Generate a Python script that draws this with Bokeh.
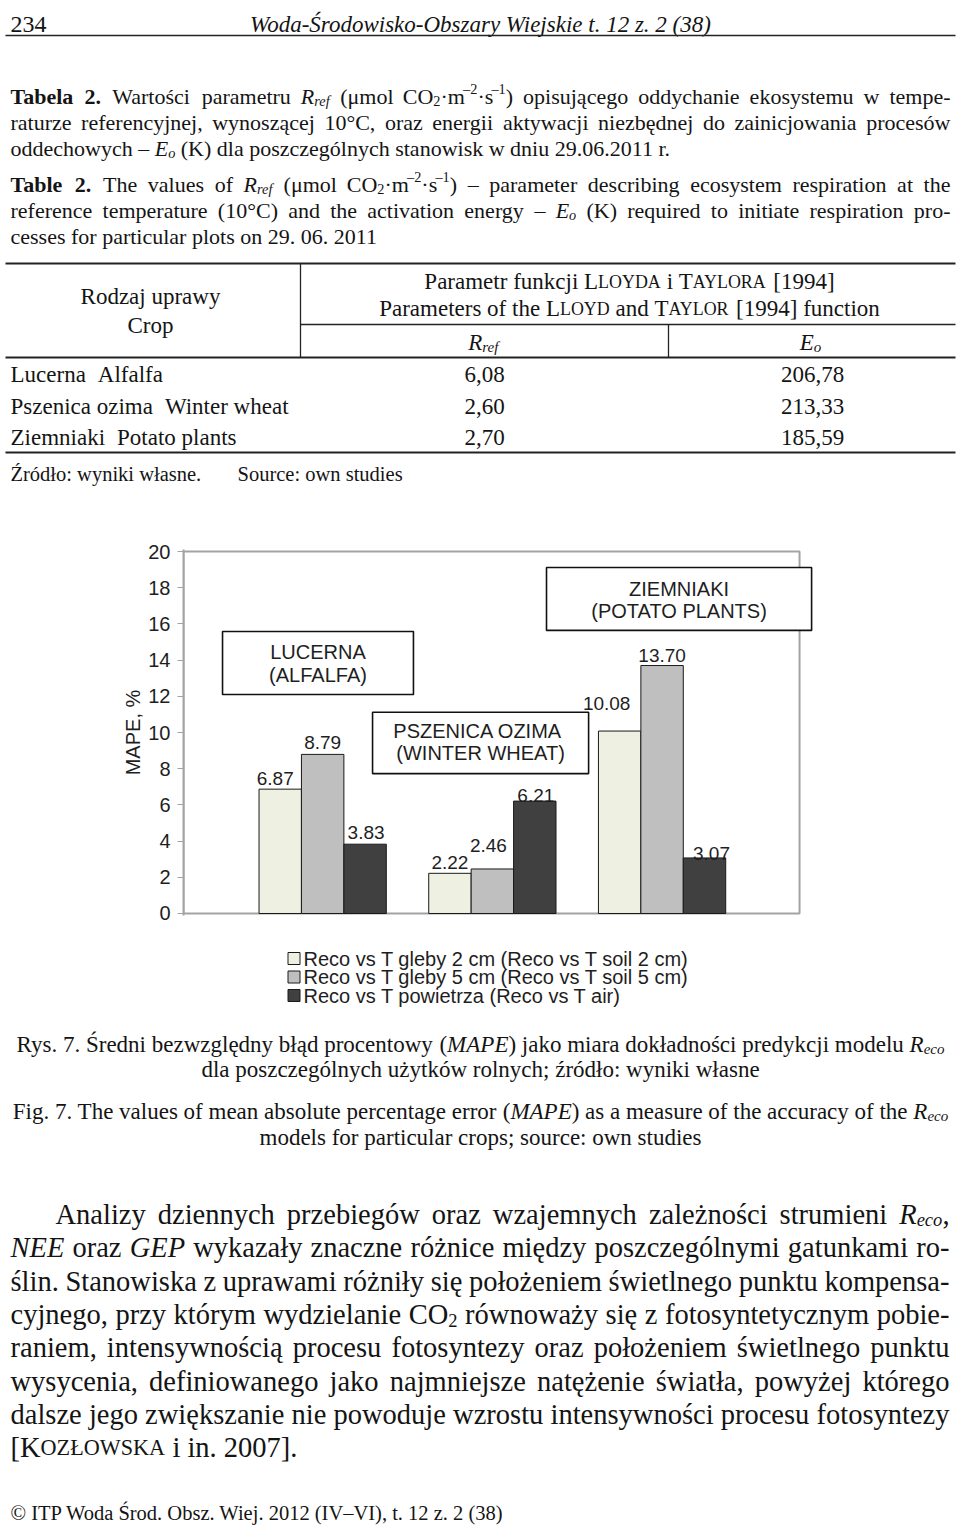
import re
from bokeh.plotting import figure
from bokeh.models import Range1d, ColumnDataSource, FixedTicker, BoxAnnotation, Label
from bokeh.layouts import column
from bokeh.core.properties import value, field
from bokeh.embed import file_html
from bokeh.resources import INLINE

# ---------------- data ----------------
crops_pl = ["Lucerna", "Pszenica ozima", "Ziemniaki"]
crops_en = ["Alfalfa", "Winter wheat", "Potato plants"]
r_ref_values = [6.08, 2.60, 2.70]
e_o_values = [206.78, 213.33, 185.59]

crop_groups = [1, 2, 3]
crop_box_labels = [["LUCERNA", "(ALFALFA)"],
                   ["PSZENICA  OZIMA", "(WINTER WHEAT)"],
                   ["ZIEMNIAKI", "(POTATO PLANTS)"]]
series_names = ["Reco vs T gleby 2 cm (Reco vs T soil 2 cm)",
                "Reco vs T gleby 5 cm (Reco vs T soil 5 cm)",
                "Reco vs T powietrza (Reco vs T air)"]
mape_soil2 = [6.87, 2.22, 10.08]
mape_soil5 = [8.79, 2.46, 13.70]
mape_air = [3.83, 6.21, 3.07]
y_ticks = [0, 2, 4, 6, 8, 10, 12, 14, 16, 18, 20]

# ---------------- styles / layout ----------------
PAGE_W = 958
series_values = [mape_soil2, mape_soil5, mape_air]
series_colors = ["#eef0e1", "#bfbfbf", "#404040"]
bar_offsets = [-0.25, 0.0, 0.25]
# manual label nudges (dx, dy in px) as placed in the original
label_nudges = [[(-5, 11), (0, 11), (-13, 28)],
                [(0, 12), (-4, 23), (0, 10)],
                [(1, 12), (1, 6), (7, 4)]]
box_geom = [(0.41, 1.535, 12.1, 15.58), (1.294, 2.567, 7.73, 11.12), (2.319, 3.881, 15.64, 19.12)]
box_text_y = [(14.43, 13.2), (10.11, 8.86), (17.94, 16.74)]
plot_area = (0.18, 3.81, 0, 20)        # visible plot-area border (x0, x1, y0, y1)

SERIF = "Liberation Serif"
SANS = "Liberation Sans"
INK = "#141414"
FRAME_GRAY = "#a3a3a3"

# ---------------- simple text layout (Times metrics) ----------------
RG, IT = {}, {}
def setw(tbl, chars, w):
    for c in chars:
        tbl[c] = w
for tbl in (RG, IT):
    setw(tbl, " ", 250); setw(tbl, "0123456789", 500); setw(tbl, ".,", 250)
    setw(tbl, ":;", 278); setw(tbl, "()[]-", 333); setw(tbl, "–", 500)
    setw(tbl, "°", 400); setw(tbl, "μ", 500); setw(tbl, "·", 250); setw(tbl, "©", 760)
for c, w in zip("abcdefghijklmnopqrstuvwxyz",
                [444,500,444,500,444,333,500,500,278,278,500,278,778,500,500,500,500,333,389,278,500,500,722,500,500,444]):
    RG[c] = w
for c, w in zip("ABCDEFGHIJKLMNOPQRSTUVWXYZ",
                [722,667,667,722,611,556,722,722,333,389,722,611,889,722,722,556,722,667,556,611,722,722,944,722,722,611]):
    RG[c] = w
for c, w in zip("ąćęłńóśźżŚŹŻŁÓ", [444,444,444,278,500,500,389,444,444,556,611,611,611,722]):
    RG[c] = w
for c, w in zip("abcdefghijklmnopqrstuvwxyz",
                [500,500,444,500,444,278,500,500,278,278,444,278,722,500,500,500,500,389,389,278,500,444,667,444,444,389]):
    IT[c] = w
for c, w in zip("ABCDEFGHIJKLMNOPQRSTUVWXYZ",
                [611,611,667,722,611,611,722,722,333,444,667,556,833,667,722,611,722,611,500,556,722,611,833,611,556,556]):
    IT[c] = w
IT["Ś"] = 500; IT["ó"] = 500

SPEC = {"n": ("normal", 1.0, 0.0), "b": ("bold", 1.0, 0.0), "i": ("italic", 1.0, 0.0),
        "sub": ("normal", 0.65, 0.2), "sup": ("normal", 0.65, -0.36),
        "isub": ("italic", 0.65, 0.2), "sc": ("normal", 0.78, 0.0)}
TOK = re.compile(r"\{(\w+):([^}]*)\}|([^{]+)")

def parse(line):
    words = [[]]
    for m in TOK.finditer(line):
        tag = m.group(1) or "n"
        txt = m.group(2) if m.group(1) else m.group(3)
        for k, part in enumerate(txt.split(" ")):
            if k > 0:
                words.append([])
            if part:
                words[-1].append((part, tag))
    return [w for w in words if w]

def run_w(txt, tag, fs):
    style, scale, _ = SPEC[tag]
    tbl = IT if style == "italic" else RG
    f = 1.07 if style == "bold" else 1.0
    return sum(tbl.get(c, RG.get(c, 500)) for c in txt) / 1000.0 * fs * scale * f

def word_w(word, fs):
    return sum(run_w(t, g, fs) for t, g in word)

class TextLayer:
    def __init__(self):
        self.d = dict(x=[], y=[], text=[], size=[], style=[], align=[])

    def add(self, x, y, text, fs, style, align="left"):
        self.d["x"].append(x); self.d["y"].append(y); self.d["text"].append(text)
        self.d["size"].append("%.1fpx" % fs); self.d["style"].append(style)
        self.d["align"].append(align)

    def line(self, spec, base, fs, mode="left", xl=10, xr=950, xc=480):
        words = parse(spec)
        widths = [word_w(w, fs) for w in words]
        sp = 0.25 * fs
        single = all(len(w) == 1 and w[0][1] == words[0][0][1] for w in words)
        if mode == "center" and single:
            st = SPEC[words[0][0][1]]
            self.add(xc, base + st[2] * fs, " ".join(w[0][0] for w in words), fs * st[1], st[0], "center")
            return
        if mode == "justify" and len(words) > 1:
            gap = (xr - xl - sum(widths)) / (len(words) - 1)
            x = xl
        elif mode == "center":
            gap = sp
            x = xc - (sum(widths) + sp * (len(words) - 1)) / 2
        else:
            gap = sp
            x = xl
        last = None
        for w, ww in zip(words, widths):
            if mode != "justify" and len(w) == 1 and last == w[0][1]:
                self.d["text"][-1] += " " + w[0][0]
            else:
                cx = x
                for t, g in w:
                    style, scale, dy = SPEC[g]
                    self.add(cx, base + dy * fs, t, fs * scale, style)
                    cx += run_w(t, g, fs)
                last = w[-1][1] if len(w) == 1 else None
            x += ww + gap

    def draw(self, p, font):
        p.text(x="x", y="y", text="text", source=ColumnDataSource(self.d),
               text_font=value(font), text_font_size=field("size"),
               text_font_style=field("style"), text_align=field("align"),
               text_baseline="alphabetic", text_color=INK)

def no_align(p):
    try:
        p.frame_align = False
    except Exception:
        pass
    return p

def page_fig(y0, y1):
    p = figure(width=PAGE_W, height=int(y1 - y0), x_range=Range1d(0, PAGE_W), y_range=Range1d(y1, y0),
               x_axis_location=None, y_axis_location=None, min_border=0, title=None,
               toolbar_location=None, output_backend="svg", outline_line_color=None)
    p.grid.visible = False
    return no_align(p)

def fmt(v):
    return ("%.2f" % v).replace(".", ",")

# ---------------- top: header, table caption, table ----------------
top = page_fig(0, 530)
T = TextLayer()
T.line("234", 24, 24, "left", xl=10)
T.line("{i:Woda-Środowisko-Obszary Wiejskie t. 12 z. 2 (38)}", 24, 23, "center", xc=480)

cap_pl = [("{b:Tabela 2.} Wartości parametru {i:R}{isub:ref} (μmol CO{sub:2}·m{sup:–2}·s{sup:–1}) opisującego oddychanie ekosystemu w tempe-", "justify"),
          ("raturze referencyjnej, wynoszącej 10°C, oraz energii aktywacji niezbędnej do zainicjowania procesów", "justify"),
          ("oddechowych – {i:E}{isub:o} (K) dla poszczególnych stanowisk w dniu 29.06.2011 r.", "left")]
cap_en = [("{b:Table 2.} The values of {i:R}{isub:ref} (μmol CO{sub:2}·m{sup:–2}·s{sup:–1}) – parameter describing ecosystem respiration at the", "justify"),
          ("reference temperature (10°C) and the activation energy – {i:E}{isub:o} (K) required to initiate respiration pro-", "justify"),
          ("cesses for particular plots on 29. 06. 2011", "left")]
for k, (s, m) in enumerate(cap_pl):
    T.line(s, 96 + 26 * k, 22, m, xl=10, xr=950)
for k, (s, m) in enumerate(cap_en):
    T.line(s, 184 + 26 * k, 22, m, xl=10, xr=950)

T.line("Rodzaj uprawy", 296, 23, "center", xc=150)
T.line("Crop", 325, 23, "center", xc=150)
T.line("Parametr funkcji L{sc:LOYDA} i T{sc:AYLORA} [1994]", 281, 23, "center", xc=629)
T.line("Parameters of the L{sc:LOYD} and T{sc:AYLOR} [1994] function", 308, 23, "center", xc=629)
T.line("{i:R}{isub:ref}", 342, 23, "center", xc=483)
T.line("{i:E}{isub:o}", 342, 23, "center", xc=810)
for i, (pl, en, r, e) in enumerate(zip(crops_pl, crops_en, r_ref_values, e_o_values)):
    yb = 374 + 31.5 * i
    T.line(pl, yb, 23, "left", xl=10)
    T.line(en, yb, 23, "left", xl=10 + word_w([(pl, "n")], 23) + 12)
    T.line(fmt(r), yb, 23, "center", xc=484)
    T.line(fmt(e), yb, 23, "center", xc=812)
T.line("Źródło: wyniki własne.", 473, 20.5, "left", xl=10)
T.line("Source: own studies", 473, 20.5, "left", xl=237)
T.draw(top, SERIF)

top.segment(x0=[5], y0=[35], x1=[955], y1=[35], line_color="#222222", line_width=1.6)
top.segment(x0=[5, 5, 5], y0=[263, 357, 452], x1=[955, 955, 955], y1=[263, 357, 452],
            line_color="#222222", line_width=2)
top.segment(x0=[300, 300, 668], y0=[263, 324, 324], x1=[300, 955, 668], y1=[357, 324, 357],
            line_color="#222222", line_width=1.3)

# ---------------- chart ----------------
# the frame is a little larger than the visible plot area, so the potato box can
# stick out past the right border as in the original (ranges give 18.1 px per %)
chart = figure(width=PAGE_W, height=405, x_range=Range1d(0.18, 3.904),
               y_range=Range1d(-0.1105, 20.1105),
               x_axis_location=None, title=None, toolbar_location=None, output_backend="svg",
               min_border_left=183, min_border_right=PAGE_W - 815, min_border_top=19,
               min_border_bottom=20)
no_align(chart)
chart.grid.visible = False
chart.outline_line_color = None
ax = chart.yaxis[0]
ax.ticker = FixedTicker(ticks=y_ticks)
ax.minor_tick_line_color = None
ax.major_tick_in = 0
ax.major_tick_out = 6
ax.major_tick_line_color = FRAME_GRAY
ax.axis_line_color = FRAME_GRAY
ax.axis_line_width = 2
ax.major_label_standoff = 7
ax.major_label_text_font = SANS
ax.major_label_text_font_size = "20px"
ax.major_label_text_color = "#1e1e1e"
ax.axis_label = "MAPE, %"
ax.axis_label_text_font = SANS
ax.axis_label_text_font_size = "20px"
ax.axis_label_text_font_style = "normal"
ax.axis_label_text_color = "#1e1e1e"
ax.axis_label_standoff = 1

x0, x1, y0, y1 = plot_area
chart.add_layout(BoxAnnotation(left=x0, right=x1, bottom=y0, top=y1, fill_alpha=0,
                               fill_color=None, line_color=FRAME_GRAY, line_alpha=1.0,
                               line_width=2, level="underlay"))

for vals, color, off in zip(series_values, series_colors, bar_offsets):
    chart.vbar(x=[g + off for g in crop_groups], top=vals, bottom=0, width=0.25,
               fill_color=color, line_color="#1a1a1a", line_width=1)

lab = dict(x=[], y=[], text=[], dx=[], dy=[])
for vals, off, nudges in zip(series_values, bar_offsets, label_nudges):
    for g, v, (dx, dy) in zip(crop_groups, vals, nudges):
        lab["x"].append(g + off); lab["y"].append(v); lab["text"].append("%.2f" % v)
        lab["dx"].append(dx); lab["dy"].append(-dy)
chart.text(x="x", y="y", text="text", x_offset="dx", y_offset="dy", source=ColumnDataSource(lab),
           text_font=value(SANS), text_font_size="19px", text_align="center",
           text_baseline="alphabetic", text_color="#1e1e1e")

# crop name boxes
for (l, r, b, t), lines, ys in zip(box_geom, crop_box_labels, box_text_y):
    chart.add_layout(BoxAnnotation(left=l, right=r, bottom=b, top=t, fill_color="white",
                                   fill_alpha=1.0, line_color="#111111", line_alpha=1.0,
                                   line_width=1.6, level="annotation"))
    for s, yy in zip(lines, ys):
        chart.add_layout(Label(x=(l + r) / 2, y=yy, text=s, text_font=SANS, text_font_size="20px",
                               text_align="center", text_baseline="middle", text_color="#1e1e1e",
                               level="annotation"))

# ---------------- legend ----------------
leg = page_fig(935, 1020)
leg_y = [958 + 18.5 * k for k in range(len(series_names))]
leg.scatter(x=[293.5] * len(series_names), y=leg_y, marker="square", size=12,
            fill_color=series_colors, line_color="#1a1a1a", line_width=1)
leg.text(x=[303] * len(series_names), y=leg_y, text=series_names, text_font=value(SANS),
         text_font_size="20px", text_baseline="middle", text_align="left", text_color="#1e1e1e")

# ---------------- bottom: figure caption, body text, footer ----------------
bot = page_fig(1020, 1526)
B = TextLayer()
B.line("Rys. 7. Średni bezwzględny błąd procentowy ({i:MAPE}) jako miara dokładności predykcji modelu {i:R}{isub:eco}", 1044, 23, "center", xc=480)
B.line("dla poszczególnych użytków rolnych; źródło: wyniki własne", 1069, 23, "center", xc=480)
B.line("Fig. 7. The values of mean absolute percentage error ({i:MAPE}) as a measure of the accuracy of the {i:R}{isub:eco}", 1111, 23, "center", xc=480)
B.line("models for particular crops; source: own studies", 1137, 23, "center", xc=480)
body = ["Analizy dziennych przebiegów oraz wzajemnych zależności strumieni {i:R}{isub:eco},",
        "{i:NEE} oraz {i:GEP} wykazały znaczne różnice między poszczególnymi gatunkami ro-",
        "ślin. Stanowiska z uprawami różniły się położeniem świetlnego punktu kompensa-",
        "cyjnego, przy którym wydzielanie CO{sub:2} równoważy się z fotosyntetycznym pobie-",
        "raniem, intensywnością procesu fotosyntezy oraz położeniem świetlnego punktu",
        "wysycenia, definiowanego jako najmniejsze natężenie światła, powyżej którego",
        "dalsze jego zwiększanie nie powoduje wzrostu intensywności procesu fotosyntezy",
        "[K{sc:OZŁOWSKA} i in. 2007]."]
for k, s in enumerate(body):
    mode = "left" if k == len(body) - 1 else "justify"
    B.line(s, 1214 + 33.3 * k, 28.5, mode, xl=55 if k == 0 else 10, xr=949)
B.line("© ITP Woda Środ. Obsz. Wiej. 2012 (IV–VI), t. 12 z. 2 (38)", 1512, 20.5, "left", xl=10)
B.draw(bot, SERIF)

layout = column(top, chart, leg, bot, spacing=0)
open("out.html", "w").write(file_html(layout, INLINE))
